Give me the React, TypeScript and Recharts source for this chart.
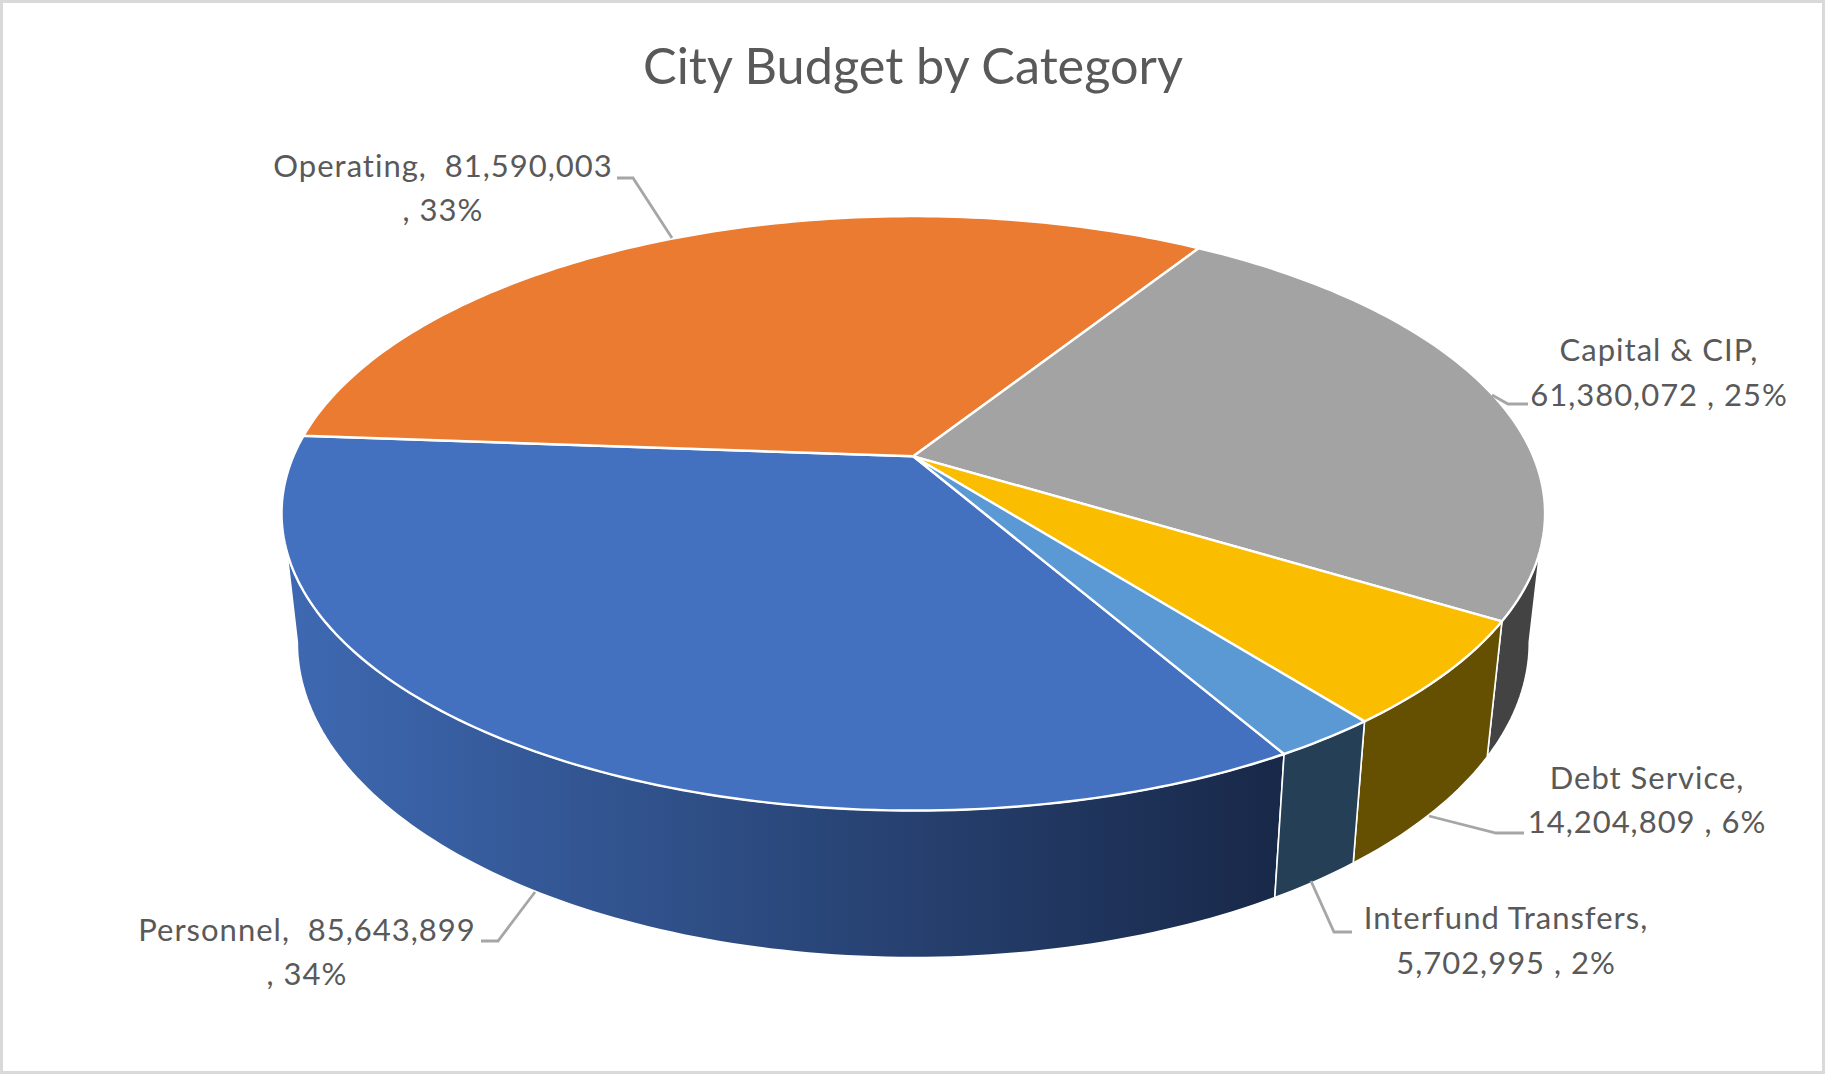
import React from "react";
import { PieChart, Pie } from "recharts";

const categories = ["Personnel", "Operating", "Capital & CIP", "Debt Service", "Interfund Transfers"];
const budgetValues = [85643899, 81590003, 61380072, 14204809, 5702995];
const topColors = ["#4371C0", "#EA7B31", "#A3A3A3", "#FBBD00", "#5A99D3"];
const wallColors = ["url(#personnelWall)", "#7a3f14", "#434343", "#654F00", "#243F56"];
const titleText = "City Budget by Category";

// Label placement: text centre, two baselines, and the leader polyline
const labelAnchors = [
  { x: 307, y1: 941, y2: 985, breakAfterValue: true, leader: "481,941 498,941 535,892" },
  { x: 443, y1: 177, y2: 221, breakAfterValue: true, leader: "617,178 633,178 672,238" },
  { x: 1659, y1: 361, y2: 406, breakAfterValue: false, leader: "1528,404 1508,404 1492,395" },
  { x: 1647, y1: 789, y2: 833, breakAfterValue: false, leader: "1524,833 1496,833 1429,816" },
  { x: 1506, y1: 929, y2: 974, breakAfterValue: false, leader: "1352,932 1334,932 1311,881" },
];

const chartData = categories.map((name, i) => ({ name, value: budgetValues[i] }));

const FONT = "Lato, 'Open Sans', sans-serif";
const PERSPECTIVE = 0.192;
const TILT = 0.4617;
const WALL_X = 0.975;
const WALL_Y = 1.06;
const WALL_DROP = 125.7;

// theta is measured clockwise from the top of the circle, in degrees
function project(cx: number, cy: number, r: number, theta: number) {
  const t = (theta * Math.PI) / 180;
  const u = Math.sin(t);
  const v = -Math.cos(t);
  const d = 1 - PERSPECTIVE * v;
  return { x: (r * u) / d, y: (r * TILT * v) / d };
}

function rim(cx: number, cy: number, r: number, a: number, b: number, sx = 1, sy = 1, drop = 0) {
  const points: string[] = [];
  const steps = Math.max(2, Math.ceil(Math.abs(b - a)));
  for (let i = 0; i <= steps; i++) {
    const p = project(cx, cy, r, a + ((b - a) * i) / steps);
    points.push(`${(cx + p.x * sx).toFixed(2)},${(cy + drop + p.y * sy).toFixed(2)}`);
  }
  return points;
}

function thetaRange(props: any) {
  let t0 = 90 - props.startAngle;
  let t1 = 90 - props.endAngle;
  while (t0 >= 360) {
    t0 -= 360;
    t1 -= 360;
  }
  return [t0, t1];
}

function TopFace(props: any) {
  const { cx, cy, outerRadius, name } = props;
  const [t0, t1] = thetaRange(props);
  const pts = rim(cx, cy, outerRadius, t0, t1);
  const d = `M${cx},${cy} L${pts.join(" L")} Z`;
  return <path d={d} fill={topColors[categories.indexOf(name)]} stroke="#ffffff" strokeWidth={2.4} strokeLinejoin="round" />;
}

function WallFace(props: any) {
  const { cx, cy, outerRadius, name } = props;
  const [t0, t1] = thetaRange(props);
  const topA = Math.max(t0, 108.3);
  const topB = Math.min(t1, 251.7);
  const botA = Math.max(t0, 101);
  const botB = Math.min(t1, 259);
  if (topA >= topB || botA >= botB) return <g />;
  const top = rim(cx, cy, outerRadius, topA, topB);
  const bottom = rim(cx, cy, outerRadius, botA, botB, WALL_X, WALL_Y, WALL_DROP).reverse();
  const d = `M${top.join(" L")} L${bottom.join(" L")} Z`;
  return (
    <g>
      <defs>
        <linearGradient id="personnelWall" gradientUnits="userSpaceOnUse" x1={285} y1={0} x2={1282} y2={0}>
          <stop offset="0" stopColor="#3E69B2" />
          <stop offset="1" stopColor="#182848" />
        </linearGradient>
      </defs>
      <path d={d} fill={wallColors[categories.indexOf(name)]} stroke="#ffffff" strokeWidth={1.6} strokeLinejoin="round" />
    </g>
  );
}

function SliceLabel(props: any) {
  const i = categories.indexOf(props.name);
  const a = labelAnchors[i];
  const pct = `${Math.round(props.percent * 100)}%`;
  const val = budgetValues[i].toLocaleString("en-US");
  const line1 = a.breakAfterValue ? `${categories[i]},  ${val}` : `${categories[i]},`;
  const line2 = a.breakAfterValue ? `, ${pct}` : `${val} , ${pct}`;
  const style = { fontFamily: FONT, fontSize: 31, letterSpacing: 1, whiteSpace: "pre" as const };
  return (
    <g>
      <polyline points={a.leader} fill="none" stroke="#A6A6A6" strokeWidth={2.8} />
      <text x={a.x} y={a.y1} textAnchor="middle" fill="#595959" style={style}>{line1}</text>
      <text x={a.x} y={a.y2} textAnchor="middle" fill="#595959" style={style}>{line2}</text>
    </g>
  );
}

export default function App() {
  const pieProps = {
    data: chartData,
    dataKey: "value",
    nameKey: "name",
    cx: 913.3,
    cy: 456.3,
    outerRadius: 620,
    startAngle: -60.1,
    endAngle: -420.1,
    isAnimationActive: false,
  };
  return (
    <div style={{ position: "absolute", left: 0, top: 0, width: 1825, height: 1074, background: "#fff", boxSizing: "border-box", border: "3px solid #D9D9D9" }}>
      <div style={{ position: "absolute", left: -3, top: -3 }}>
        <PieChart width={1825} height={1074} margin={{ top: 0, right: 0, bottom: 0, left: 0 }}>
          <text x={913} y={84} textAnchor="middle" fill="#595959" style={{ fontFamily: FONT, fontSize: 50.4 }}>{titleText}</text>
          <Pie {...pieProps} shape={WallFace} />
          <Pie {...pieProps} shape={TopFace} label={SliceLabel} labelLine={false} />
        </PieChart>
      </div>
    </div>
  );
}
